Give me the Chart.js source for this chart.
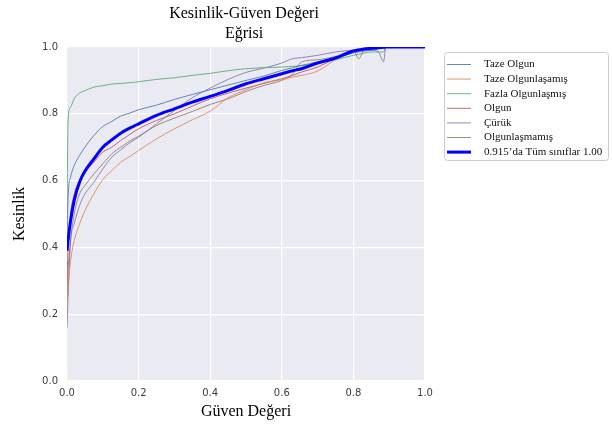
<!DOCTYPE html>
<html>
<head>
<meta charset="utf-8">
<script src="https://cdn.jsdelivr.net/npm/chart.js@4.4.4/dist/chart.umd.min.js"></script>
<style>
  html, body { margin: 0; padding: 0; background: #fff; }
  #wrap { width: 612px; height: 427px; }
</style>
</head>
<body>
<div id="wrap"><canvas id="chart" width="612" height="427"></canvas></div>
<script>
// confidence values (x) shared by every curve
const confidence = [0, 0.003, 0.01, 0.02, 0.035, 0.05, 0.075, 0.1, 0.125, 0.15, 0.175, 0.2, 0.25, 0.3, 0.35, 0.4,
    0.45, 0.5, 0.55, 0.6, 0.63, 0.655, 0.7, 0.75, 0.8, 0.815, 0.83, 0.85, 0.87, 0.884, 0.89, 1.0];

const tazeOlgun = [0.40, 0.55, 0.61, 0.645, 0.675, 0.70, 0.735, 0.762, 0.777, 0.793, 0.802, 0.812, 0.826, 0.843, 0.858, 0.872,
    0.886, 0.900, 0.913, 0.930, 0.938, 0.945, 0.955, 0.968, 0.982, 0.985, 0.988, 0.990, 0.995, 0.998, 1.0, null];
const tazeOlgunlasamis = [0.22, 0.28, 0.36, 0.42, 0.47, 0.51, 0.56, 0.603, 0.63, 0.655, 0.672, 0.69, 0.725, 0.755, 0.782, 0.808,
    0.848, 0.872, 0.893, 0.902, 0.910, 0.915, 0.928, 0.962, 0.990, 0.995, 0.996, 0.997, 0.998, 0.999, 1.0, null];
const fazlaOlgunlasmis = [0.50, 0.78, 0.82, 0.845, 0.862, 0.869, 0.880, 0.884, 0.889, 0.891, 0.893, 0.896, 0.903, 0.908, 0.915, 0.921,
    0.929, 0.935, 0.938, 0.940, 0.942, 0.944, 0.952, 0.962, 0.975, 0.978, 0.982, 0.985, 0.985, 0.985, 1.0, null];
const olgun = [0.30, 0.40, 0.50, 0.56, 0.60, 0.625, 0.655, 0.685, 0.70, 0.72, 0.738, 0.755, 0.78, 0.80, 0.823, 0.845,
    0.862, 0.877, 0.891, 0.905, 0.915, 0.925, 0.940, 0.965, 0.985, 0.990, 0.993, 0.995, 0.997, 0.998, 1.0, null];
const curuk = [0.16, 0.25, 0.42, 0.47, 0.525, 0.56, 0.595, 0.635, 0.67, 0.692, 0.713, 0.73, 0.77, 0.81, 0.848, 0.877,
    0.903, 0.924, 0.937, 0.952, 0.965, 0.968, 0.975, 0.985, 0.990, 0.990, 0.990, 0.990, 0.985, 0.956, 1.0, null];
const olgunlasmamis = [0.25, 0.33, 0.42, 0.50, 0.56, 0.585, 0.62, 0.65, 0.68, 0.70, 0.718, 0.733, 0.765, 0.787, 0.807, 0.828,
    0.845, 0.867, 0.885, 0.900, 0.918, 0.955, 0.962, 0.972, 0.990, 0.965, 0.990, 0.993, 0.995, 0.998, 1.0, null];
const tumSiniflar = [0.39, 0.42, 0.48, 0.54, 0.595, 0.628, 0.665, 0.70, 0.722, 0.742, 0.757, 0.77, 0.795, 0.815, 0.835, 0.852,
    0.870, 0.890, 0.905, 0.920, 0.929, 0.935, 0.952, 0.967, 0.988, 0.991, 0.994, 0.996, 0.998, 0.999, 1.0, 1.0];

const seriesLabels = ['Taze Olgun', 'Taze Olgunlaşamış', 'Fazla Olgunlaşmış', 'Olgun', 'Çürük', 'Olgunlaşmamış',
    '0.915\u2019da Tüm sınıflar 1.00'];
const seriesValues = [tazeOlgun, tazeOlgunlasamis, fazlaOlgunlasmis, olgun, curuk, olgunlasmamis, tumSiniflar];
const seriesColors = ['rgba(76,114,176,0.85)', 'rgba(221,132,82,0.85)', 'rgba(85,168,104,0.85)', 'rgba(196,78,82,0.85)',
    'rgba(129,114,179,0.85)', 'rgba(147,120,96,0.85)', '#0000ff'];
const titleLines = ['Kesinlik-Güven Değeri', 'Eğrisi'];

const serif = '"Liberation Serif", "DejaVu Serif", serif';

const datasets = seriesValues.map((vals, i) => {
    const thick = i === seriesValues.length - 1;
    return {
        label: seriesLabels[i],
        data: confidence.map((c, j) => ({ x: c, y: vals[j] })).filter(p => p.y !== null),
        borderColor: seriesColors[i],
        borderWidth: thick ? 3 : 1,
        pointRadius: 0,
        cubicInterpolationMode: 'monotone',
        fill: false,
        clip: 0,
        order: thick ? 0 : 1
    };
});

const plotBackground = {
    id: 'plotBackground',
    beforeDraw(chart) {
        const { ctx, chartArea: a } = chart;
        ctx.save();
        ctx.fillStyle = '#eaeaf2';
        ctx.fillRect(a.left, a.top, a.right - a.left, a.bottom - a.top);
        ctx.restore();
    }
};

const titleAndLegend = {
    id: 'titleAndLegend',
    afterDraw(chart) {
        const { ctx, chartArea: a } = chart;
        ctx.save();
        // title
        ctx.fillStyle = '#000';
        ctx.font = '16px ' + serif;
        ctx.textAlign = 'center';
        ctx.textBaseline = 'middle';
        const cx = (a.left + a.right) / 2 - 2;
        titleLines.forEach((t, i) => ctx.fillText(t, cx, 14 + i * 20));

        // legend
        const x0 = a.right + 19, y0 = a.top + 5, w = 164, h = 108;
        ctx.fillStyle = 'rgba(255,255,255,0.9)';
        ctx.strokeStyle = '#cccccc';
        ctx.lineWidth = 1;
        ctx.beginPath();
        ctx.roundRect(x0 + 0.5, y0 + 0.5, w, h, 3);
        ctx.fill();
        ctx.stroke();
        ctx.font = '11px ' + serif;
        ctx.textAlign = 'left';
        seriesLabels.forEach((lab, i) => {
            const y = y0 + 12.5 + i * 14.6;
            ctx.strokeStyle = seriesColors[i];
            ctx.lineWidth = i === seriesLabels.length - 1 ? 3 : 1;
            ctx.beginPath();
            ctx.moveTo(x0 + 3, y);
            ctx.lineTo(x0 + 27, y);
            ctx.stroke();
            ctx.fillStyle = '#111';
            ctx.fillText(lab, x0 + 40, y);
        });
        ctx.restore();
    }
};

new Chart(document.getElementById('chart'), {
    type: 'line',
    data: { datasets },
    options: {
        responsive: false,
        animation: false,
        layout: { padding: { top: 47, right: 187, left: 0, bottom: 0 } },
        plugins: {
            legend: { display: false },
            title: { display: false },
            tooltip: { enabled: false }
        },
        scales: {
            x: {
                type: 'linear',
                min: 0,
                max: 1,
                afterFit: s => { s.height = 46; },
                border: { display: false },
                grid: { color: '#ffffff', lineWidth: 1.2, drawTicks: false },
                ticks: {
                    stepSize: 0.2,
                    padding: 6,
                    color: '#3c3c3c',
                    font: { family: '"DejaVu Sans"', size: 10 },
                    callback: v => v.toFixed(1)
                },
                title: {
                    display: true,
                    text: 'Güven Değeri',
                    color: '#000',
                    font: { family: serif, size: 16 },
                    padding: { top: 6, bottom: 6 }
                }
            },
            y: {
                min: 0,
                max: 1,
                afterFit: s => { s.width = 67; },
                border: { display: false },
                grid: { color: '#ffffff', lineWidth: 1.2, drawTicks: false },
                ticks: {
                    stepSize: 0.2,
                    padding: 9,
                    color: '#3c3c3c',
                    font: { family: '"DejaVu Sans"', size: 10 },
                    callback: v => v.toFixed(1)
                },
                title: {
                    display: true,
                    text: 'Kesinlik',
                    color: '#000',
                    font: { family: serif, size: 16 },
                    padding: { top: 10, bottom: 10 }
                }
            }
        }
    },
    plugins: [plotBackground, titleAndLegend]
});
</script>
</body>
</html>
